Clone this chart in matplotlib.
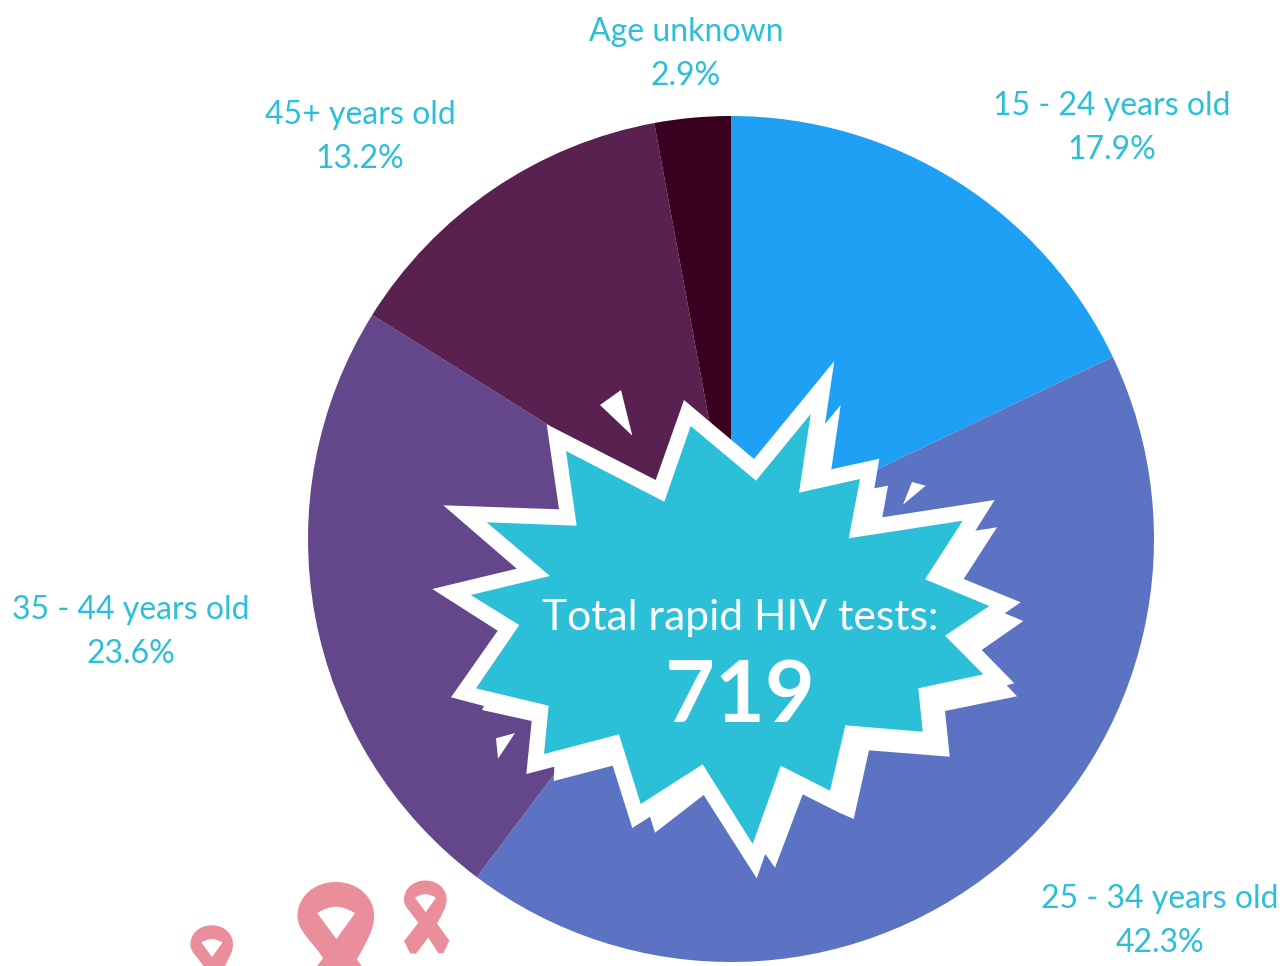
import matplotlib
matplotlib.use("Agg")
import matplotlib.pyplot as plt
from matplotlib.patches import Polygon, PathPatch
from matplotlib.path import Path
from matplotlib.transforms import Affine2D

plt.rcParams['font.family'] = ['Lato', 'DejaVu Sans']

W, H = 1288, 966

categories = ["15 - 24 years old", "25 - 34 years old", "35 - 44 years old", "45+ years old", "Age unknown"]
values = [17.9, 42.3, 23.6, 13.2, 2.9]
colors = ["#1EA0F4", "#5C73C3", "#64478A", "#582150", "#39001F"]
label_pos = [(1112, 106), (1160, 899), (131, 610), (360, 115), (686, 32)]
TEAL = "#2BBFD8"
PINK = "#EA8E9C"
total_title = "Total rapid HIV tests:"
total_value = "719"

burst_outer = [(684,400),(754,459),(834.3,361),(825,424),(840.7,405),(831.3,469.3),(879.3,458.7),
 (874.3,488.3),(888,485.7),(882.3,517.3),(994.7,500),(975.3,530.7),(997,527.3),(963.7,579),
 (1020.7,602.3),(1004.7,613.3),(1023.3,621),(981.7,650),(1014.3,683.3),(1006.7,685.3),(1017,696.3),
 (945,711),(949.7,756.7),(869,750.3),(853.7,819),(839.3,812.7),(802.7,794.3),(775,867.7),
 (765.3,854),(756.7,878.3),(703.7,795),(655,832.7),(650,816.7),(632.3,828),(612.7,765.7),
 (553.7,781),(554.3,766.7),(526.3,774),(531.7,721),(482,710),(484,706),(451,697.3),(497.7,630.7),
 (432.3,589),(516.7,568.7),(443.3,505.3),(559,509.3),(546.7,424.3),(655.7,480)]
burst_inner = [(690.7,426),(756,480.7),(810.7,414),(799,492.7),(860,479),(848.7,538.3),(962.7,520.7),
 (925,579.3),(989.3,606),(945,635.7),(983.3,674.3),(918.3,688.3),(922.7,731.7),(845.3,725.3),
 (830,790.7),(780.7,765.7),(752.7,844),(702.7,764.3),(640.7,804),(619,734.3),(544,754),
 (548.7,705.7),(476,688.3),(519.3,625),(470.7,595),(550,576),(486.7,522.3),(576.7,525.7),
 (566,451),(664.3,501.7)]
shards = [[(600,405),(621,390),(632.3,435.7)],
          [(912,482),(925.7,485.7),(903,504.7)],
          [(496,738.3),(515,733),(498,758.7)]]
ribbons = [(211.7, 925.3, 1.0), (335.8, 882, 1.8), (425.3, 880.5, 1.0)]

fig = plt.figure(figsize=(W/100, H/100), dpi=100, facecolor="white")

# pie, centre (731,539) radius 423 px
cx, cy, r = 731, 539, 423
ax = fig.add_axes([(cx-r)/W, 1-(cy+r)/H, 2*r/W, 2*r/H])
ax.pie(values, colors=colors, startangle=90, counterclock=False, radius=1)
ax.set_xlim(-1, 1); ax.set_ylim(-1, 1); ax.set_aspect("equal"); ax.axis("off")

# overlay in pixel coordinates
ov = fig.add_axes([0, 0, 1, 1], facecolor="none")
ov.set_xlim(0, W); ov.set_ylim(H, 0); ov.axis("off")

ov.add_patch(Polygon(burst_outer, closed=True, fc="white", ec="none", zorder=2))
ov.add_patch(Polygon(burst_inner, closed=True, fc=TEAL, ec="none", zorder=3))
for s in shards:
    ov.add_patch(Polygon(s, closed=True, fc="white", ec="none", zorder=2))

M, L, C, Z = Path.MOVETO, Path.LINETO, Path.CURVE4, Path.CLOSEPOLY
rv = [(0,0),(12,0),(21.3,8),(21.3,19),(21.3,27),(16,35),(11.7,43),(24,60),(18,72.7),(13,72.7),(3,57),
      (-9.3,73.3),(-15,73),(-21.3,60.7),(-7,42.3),(-14,32),(-21.3,27),(-21.3,19),(-21.3,8),(-12,0),(0,0),(0,0),
      # hole, wound the other way
      (-10.3,17.3),(0.3,31.7),(10.7,17.3),(7,15),(3,13.7),(0,13.7),(-3,13.7),(-7,15),(-10.3,17.3),(-10.3,17.3)]
rc = [M,C,C,C,C,C,C,L,L,L,L,L,L,L,L,C,C,C,C,C,C,Z,
      M,L,L,C,C,C,C,C,C,Z]
base = Path(rv, rc)
for x, y, s in ribbons:
    ov.add_patch(PathPatch(base, fc=PINK, ec="none", zorder=2,
                           transform=Affine2D().scale(s).translate(x, y) + ov.transData))

for name, v, (x, y) in zip(categories, values, label_pos):
    ov.text(x, y, name, color=TEAL, fontsize=23, ha="center", va="center", zorder=5)
    ov.text(x, y+44, f"{v}%", color=TEAL, fontsize=23, ha="center", va="center", zorder=5)

ov.text(740, 618, total_title, color="white", fontsize=30.7, ha="center", va="center", zorder=5)
ov.text(740, 698, total_value, color="white", fontsize=62, fontweight="bold", ha="center", va="center", zorder=5)

fig.savefig("out.png", dpi=100, facecolor="white")
